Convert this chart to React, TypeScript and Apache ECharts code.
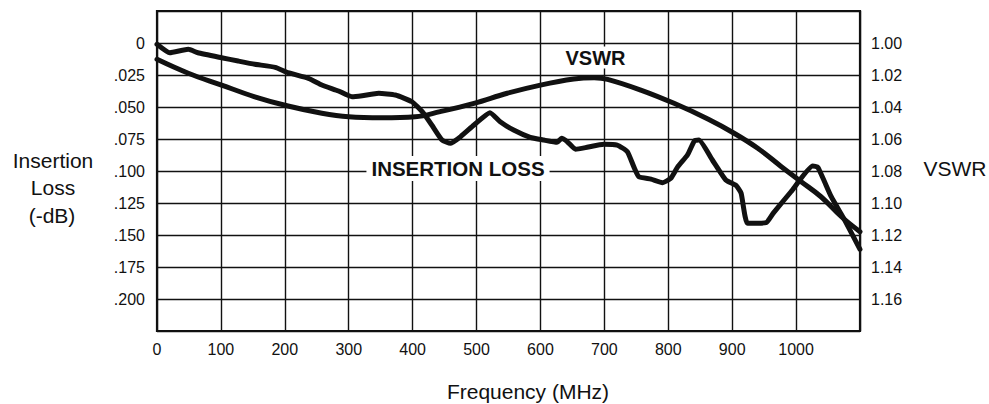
import React, { useEffect, useRef } from 'react';
import * as echarts from 'echarts';

// Insertion loss (-dB) vs frequency (MHz)
const ilFreq = [0, 20, 49, 64, 101, 127, 153, 185, 205, 237, 258, 284, 305, 321, 347, 373, 399, 415, 430, 446, 459, 475, 496, 521, 537, 558, 584, 605, 626, 633, 642, 655, 673, 699, 720, 736, 746, 754, 773, 791, 804, 815, 830, 841, 848, 869, 890, 906, 914, 924, 953, 964, 992, 1026, 1034, 1055, 1076, 1100];
const ilLoss = [0.001, 0.0076, 0.0049, 0.0076, 0.0115, 0.0141, 0.0166, 0.019, 0.0232, 0.0276, 0.0328, 0.0375, 0.042, 0.0412, 0.0393, 0.0406, 0.0459, 0.0537, 0.0641, 0.0758, 0.0784, 0.0732, 0.0641, 0.0545, 0.0615, 0.068, 0.0737, 0.0758, 0.0776, 0.0745, 0.0771, 0.083, 0.0815, 0.0791, 0.0797, 0.0849, 0.0966, 0.1045, 0.1063, 0.1091, 0.1057, 0.0966, 0.0875, 0.0763, 0.0758, 0.0914, 0.107, 0.1113, 0.1174, 0.1409, 0.1404, 0.1331, 0.1162, 0.0961, 0.0971, 0.1201, 0.1383, 0.1612];

// VSWR vs frequency (MHz)
const vswrFreq = [0, 49, 101, 153, 205, 258, 300, 352, 404, 443, 496, 548, 600, 652, 684, 705, 757, 809, 862, 903, 940, 977, 1008, 1039, 1071, 1100];
const vswrValue = [1.0102, 1.0189, 1.0263, 1.0336, 1.0394, 1.0439, 1.0461, 1.0467, 1.0461, 1.0429, 1.0377, 1.0314, 1.0263, 1.0225, 1.0217, 1.0227, 1.0294, 1.0377, 1.0475, 1.0564, 1.0658, 1.0773, 1.0867, 1.0961, 1.1086, 1.1179];

// Axis settings
const freqTicks = { min: 0, max: 1100, interval: 100, lastLabel: 1000 };
const lossTicks = { min: -0.025, max: 0.225, interval: 0.025, firstLabel: 0, lastLabel: 0.2 };
const vswrTicks = { min: 0.98, max: 1.18, interval: 0.02, firstLabel: 1.0, lastLabel: 1.16 };

const FONT = "'Liberation Sans', Arial, Helvetica, sans-serif";
const INK = '#111';

export default function App() {
  const ref = useRef<HTMLDivElement>(null);

  useEffect(() => {
    if (!ref.current) return;
    const chart = echarts.init(ref.current, null, { renderer: 'svg' });

    const option = {
      animation: false,
      backgroundColor: '#fff',
      grid: {
        left: 157,
        right: 129,
        top: 11,
        bottom: 73,
        show: true,
        borderColor: INK,
        borderWidth: 2.2,
        backgroundColor: 'transparent',
      },
      xAxis: {
        type: 'value',
        min: freqTicks.min,
        max: freqTicks.max,
        interval: freqTicks.interval,
        axisLine: { show: false },
        axisTick: { show: false },
        splitLine: { show: true, lineStyle: { color: INK, width: 1.4 } },
        axisLabel: {
          margin: 10,
          fontSize: 16,
          fontFamily: FONT,
          color: INK,
          formatter: (v: number) => (v > freqTicks.lastLabel + 1e-6 ? '' : String(Math.round(v))),
        },
      },
      yAxis: [
        {
          type: 'value',
          inverse: true,
          min: lossTicks.min,
          max: lossTicks.max,
          interval: lossTicks.interval,
          axisLine: { show: false },
          axisTick: { show: false },
          splitLine: { show: true, lineStyle: { color: INK, width: 1.4 } },
          axisLabel: {
            margin: 12,
            fontSize: 16,
            fontFamily: FONT,
            color: INK,
            formatter: (v: number) => {
              if (v < lossTicks.firstLabel - 1e-6 || v > lossTicks.lastLabel + 1e-6) return '';
              if (Math.abs(v) < 1e-6) return '0';
              return v.toFixed(3).replace(/^0/, '');
            },
          },
        },
        {
          type: 'value',
          inverse: true,
          position: 'right',
          min: vswrTicks.min,
          max: vswrTicks.max,
          interval: vswrTicks.interval,
          axisLine: { show: false },
          axisTick: { show: false },
          splitLine: { show: false },
          axisLabel: {
            margin: 11,
            fontSize: 16,
            fontFamily: FONT,
            color: INK,
            formatter: (v: number) => {
              if (v < vswrTicks.firstLabel - 1e-6 || v > vswrTicks.lastLabel + 1e-6) return '';
              return v.toFixed(2);
            },
          },
        },
      ],
      series: [
        {
          name: 'Insertion Loss',
          type: 'line',
          yAxisIndex: 0,
          data: ilFreq.map((f, i) => [f, ilLoss[i]]),
          showSymbol: false,
          symbol: 'none',
          smooth: 0.15,
          lineStyle: { color: INK, width: 5, join: 'round', cap: 'round' },
          z: 5,
        },
        {
          name: 'VSWR',
          type: 'line',
          yAxisIndex: 1,
          data: vswrFreq.map((f, i) => [f, vswrValue[i]]),
          showSymbol: false,
          symbol: 'none',
          smooth: 0.4,
          lineStyle: { color: INK, width: 5, join: 'round', cap: 'round' },
          z: 5,
        },
      ],
      graphic: [
        {
          type: 'text', z: 50, x: 53, y: 160,
          style: { text: 'Insertion', fontSize: 21, fontFamily: FONT, fill: INK, textAlign: 'center', textVerticalAlign: 'middle' },
        },
        {
          type: 'text', z: 50, x: 53, y: 187.5,
          style: { text: 'Loss', fontSize: 21, fontFamily: FONT, fill: INK, textAlign: 'center', textVerticalAlign: 'middle' },
        },
        {
          type: 'text', z: 50, x: 52, y: 215.5,
          style: { text: '(-dB)', fontSize: 21, fontFamily: FONT, fill: INK, textAlign: 'center', textVerticalAlign: 'middle' },
        },
        {
          type: 'text', z: 50, x: 955, y: 168.5,
          style: { text: 'VSWR', fontSize: 21, fontFamily: FONT, fill: INK, textAlign: 'center', textVerticalAlign: 'middle' },
        },
        {
          type: 'text', z: 50, x: 528, y: 391,
          style: { text: 'Frequency (MHz)', fontSize: 21, fontFamily: FONT, fill: INK, textAlign: 'center', textVerticalAlign: 'middle' },
        },
        {
          type: 'text', z: 50, x: 595.5, y: 57.5,
          style: {
            text: 'VSWR', fontSize: 20, fontWeight: 'bold', fontFamily: FONT, fill: INK,
            textAlign: 'center', textVerticalAlign: 'middle',
            backgroundColor: '#fff', padding: [1, 3],
          },
        },
        {
          type: 'text', z: 50, x: 458, y: 168.5,
          style: {
            text: 'INSERTION LOSS', fontSize: 20.5, fontWeight: 'bold', fontFamily: FONT, fill: INK,
            textAlign: 'center', textVerticalAlign: 'middle',
            backgroundColor: '#fff', padding: [2, 5],
          },
        },
      ],
    };

    chart.setOption(option as any);
    return () => chart.dispose();
  }, []);

  return (
    <div
      ref={ref}
      style={{ position: 'absolute', left: 0, top: 0, width: 989, height: 404, background: '#fff' }}
    />
  );
}
